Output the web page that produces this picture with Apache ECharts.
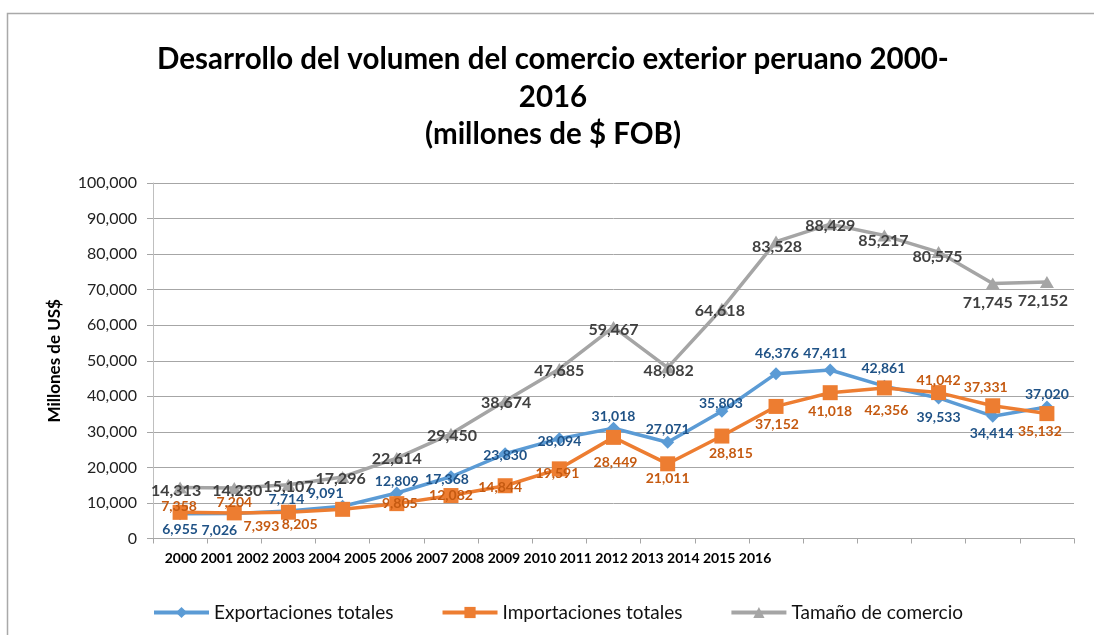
<!DOCTYPE html>
<html>
<head>
<meta charset="utf-8">
<script src="https://cdn.jsdelivr.net/npm/echarts@6/dist/echarts.min.js"></script>
<style>
  html, body { margin: 0; padding: 0; background: #fff; }
  #main { width: 1094px; height: 635px; }
</style>
</head>
<body>
<div id="main"></div>
<script>
// datos (millones de US$ FOB)
var years = ["2000", "2001", "2002", "2003", "2004", "2005", "2006", "2007", "2008",
  "2009", "2010", "2011", "2012", "2013", "2014", "2015", "2016"];
var exportaciones = [6955, 7026, 7714, 9091, 12809, 17368, 23830, 28094, 31018,
  27071, 35803, 46376, 47411, 42861, 39533, 34414, 37020];
var importaciones = [7358, 7204, 7393, 8205, 9805, 12082, 14844, 19591, 28449,
  21011, 28815, 37152, 41018, 42356, 41042, 37331, 35132];
var tamano = [14313, 14230, 15107, 17296, 22614, 29450, 38674, 47685, 59467,
  48082, 64618, 83528, 88429, 85217, 80575, 71745, 72152];
var yTicks = [0, 100000, 10000]; // min, max, interval

// desplazamiento de las etiquetas (px, respecto al marcador)
var expOff = [[0, 16], [-15, 17], [-2, -12], [-17, -13], [0, -11], [-4, 3], [0, 2], [0, 3], [0, -12],
  [0, -13], [-1, -8], [1, -20], [-5, -16], [-1, -18], [0, 20], [-1, 17], [0, -12]];
var impOff = [[-1, -6], [0, -10], [-27, 14], [-43, 15], [3, 0], [0, 0], [-5, 2], [-2, 5], [2, 25],
  [0, 15], [9, 17], [1, 18], [0, 19], [2, 23], [0, -12], [-7, -18], [-7, 18]];
var totOff = [[-4, 3], [3, 3], [0, 2], [-2, 2], [0, 1], [1, 2], [1, 2], [0, 2], [0, 3],
  [1, 3], [-2, 2], [1, 5], [0, 2], [-1, 5], [-1, 5], [-5, 19], [-4, 19]];

var fmt = function (v) { return Number(v).toLocaleString("en-US"); };

function withLabels(values, offsets) {
  return values.map(function (v, i) {
    return { value: v, label: { offset: offsets[i] } };
  });
}

var myChart = echarts.init(document.getElementById("main"), null, { renderer: "canvas" });

var labelBase = {
  show: true,
  position: "inside",
  fontFamily: "Lato",
  fontWeight: "bold",
  formatter: function (p) { return fmt(p.value); }
};

var option = {
  animation: false,
  backgroundColor: "#fff",
  title: {
    text: "Desarrollo del volumen del comercio exterior peruano 2000-\n2016\n(millones de $ FOB)",
    left: 553,
    top: 41,
    padding: 0,
    textAlign: "center",
    textStyle: {
      fontFamily: "Lato",
      fontWeight: "bold",
      fontSize: 29.5,
      lineHeight: 37.5,
      color: "#000"
    }
  },
  graphic: [
    {
      type: "rect",
      left: 5,
      top: 11,
      silent: true,
      shape: { width: 1200, height: 700 },
      style: { fill: "none", stroke: "#a9a9a9", lineWidth: 1.5 }
    }
  ],
  legend: {
    left: 147,
    top: 598,
    itemWidth: 55,
    itemHeight: 14,
    itemGap: 47,
    lineStyle: { width: 4 },
    textStyle: { fontFamily: "Lato", fontSize: 19, color: "#111" },
    data: ["Exportaciones totales", "Importaciones totales", "Tamaño de comercio"]
  },
  grid: [
    { left: 153, right: 20, top: 183, height: 355.5, containLabel: false },
    { left: 163, width: 610, top: 500, height: 40, containLabel: false }
  ],
  xAxis: [
    {
      type: "category",
      data: years,
      boundaryGap: true,
      axisLine: { lineStyle: { color: "#a6a6a6", width: 1 } },
      axisTick: { show: true, length: 5, lineStyle: { color: "#a6a6a6" } },
      axisLabel: { show: false }
    },
    {
      type: "category",
      gridIndex: 1,
      data: years,
      axisLine: { show: false },
      axisTick: { show: false },
      axisLabel: {
        interval: 0,
        margin: 11,
        fontFamily: "Lato",
        fontWeight: "bold",
        fontSize: 14,
        color: "#000"
      }
    }
  ],
  yAxis: [
    {
      type: "value",
      min: yTicks[0],
      max: yTicks[1],
      interval: yTicks[2],
      name: "Millones de US$",
      nameLocation: "middle",
      nameGap: 90,
      nameTextStyle: { fontFamily: "Lato", fontWeight: "bold", fontSize: 17, color: "#000" },
      axisLine: { show: true, lineStyle: { color: "#bfbfbf" } },
      axisTick: { show: true, length: 6, lineStyle: { color: "#a6a6a6" } },
      axisLabel: {
        margin: 16,
        fontFamily: "Lato",
        fontSize: 16,
        color: "#222",
        formatter: fmt
      },
      splitLine: { lineStyle: { color: "#a6a6a6", width: 1 } }
    },
    { type: "value", gridIndex: 1, show: false }
  ],
  series: [
    {
      name: "Exportaciones totales",
      type: "line",
      data: withLabels(exportaciones, expOff),
      symbol: "diamond",
      symbolSize: 13,
      itemStyle: { color: "#5b9bd5" },
      lineStyle: { color: "#5b9bd5", width: 3.5 },
      label: Object.assign({}, labelBase, { fontSize: 14, color: "#1f5286" }),
      z: 3
    },
    {
      name: "Importaciones totales",
      type: "line",
      data: withLabels(importaciones, impOff),
      symbol: "rect",
      symbolSize: 15,
      itemStyle: { color: "#ed7d31" },
      lineStyle: { color: "#ed7d31", width: 3.5 },
      label: Object.assign({}, labelBase, { fontSize: 14, color: "#c55a11" }),
      z: 4
    },
    {
      name: "Tamaño de comercio",
      type: "line",
      data: withLabels(tamano, totOff),
      symbol: "triangle",
      symbolSize: [14, 12],
      itemStyle: { color: "#a5a5a5" },
      lineStyle: { color: "#a5a5a5", width: 3.5 },
      label: Object.assign({}, labelBase, { fontSize: 16, color: "#404040" }),
      z: 2
    }
  ]
};

myChart.setOption(option);
window.addEventListener("resize", myChart.resize);
</script>
</body>
</html>
